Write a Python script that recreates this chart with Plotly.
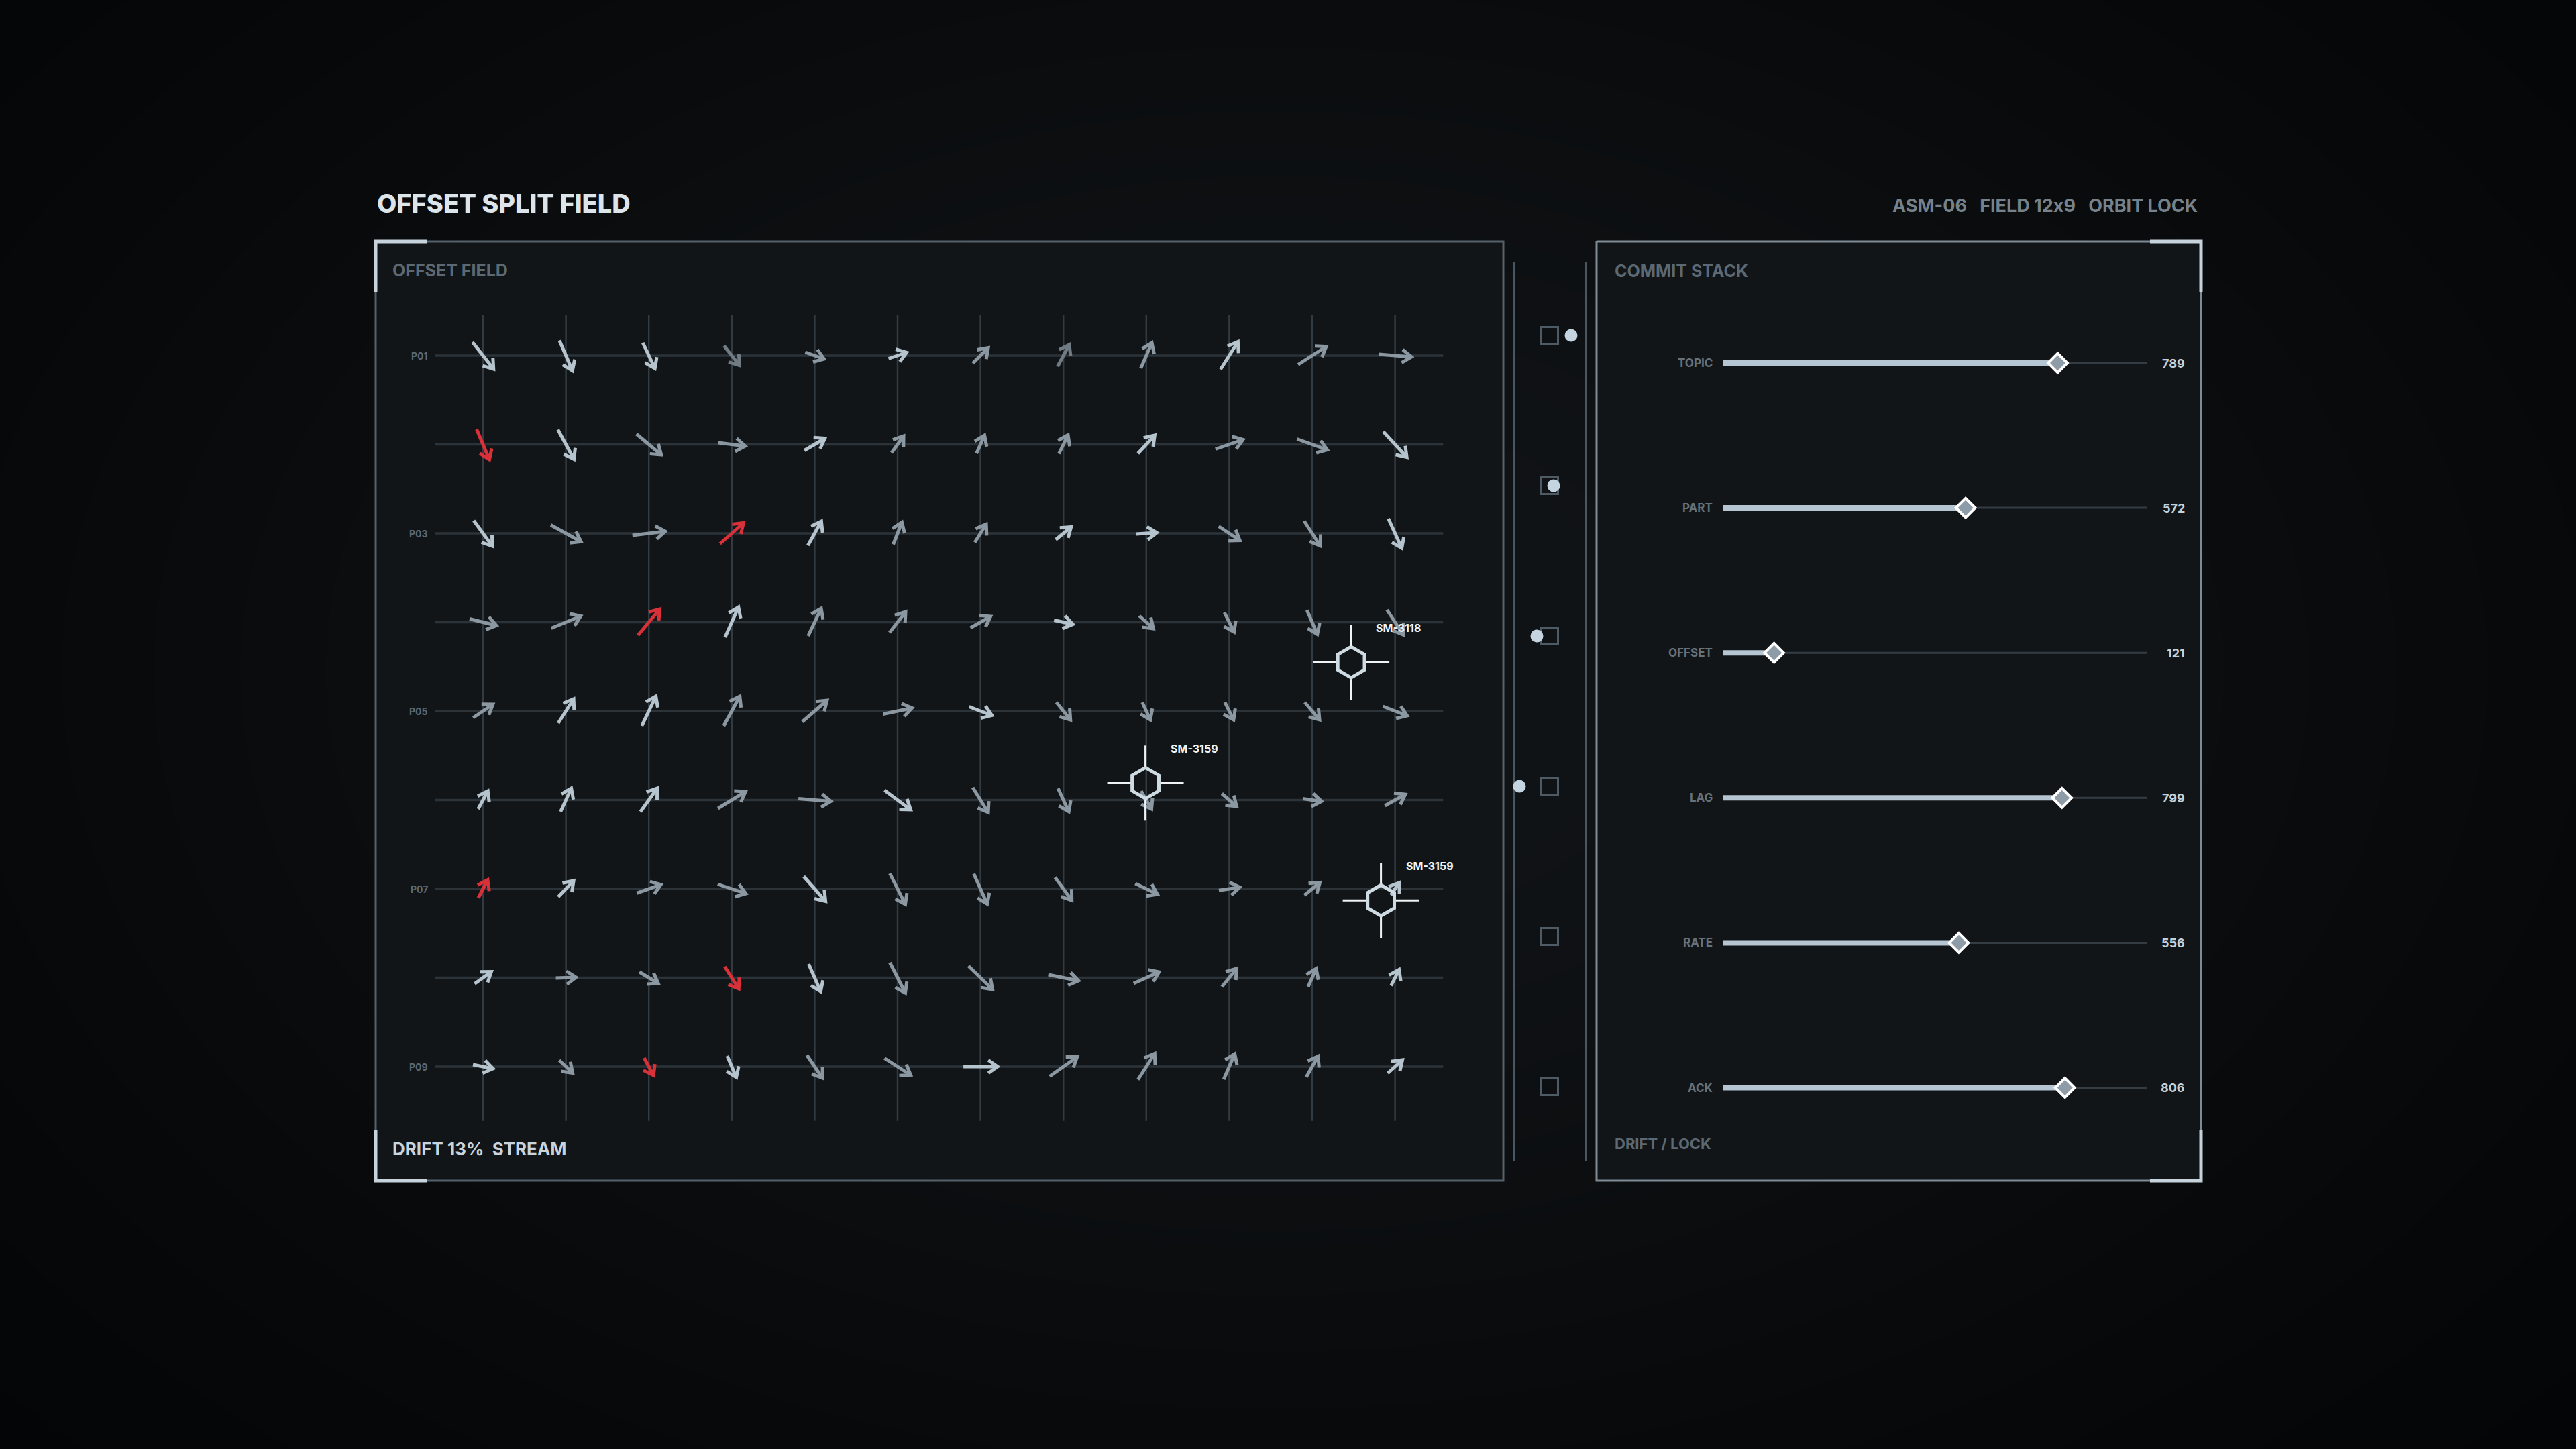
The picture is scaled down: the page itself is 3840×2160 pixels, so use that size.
import numpy as np
import plotly.graph_objects as go

W, H = 3840, 2160

# ---- data ----
col_ticks = {0: "00", 3: "24", 6: "48", 9: "72"}
row_names = ["P01", "", "P03", "", "P05", "", "P07", "", "P09"]

# drift vectors per node, px right / px up
drift_u = [
    [31.5, 19.4, 18, 23, 28, 27, 23, 17.5, 16.5, 26, 42, 49],
    [19, 24, 37, 40, 30.5, 18, 12, 13.6, 25, 41, 45, 35],
    [27.6, 45, 49, 35, 20, 13, 17, 23, 31, 31.5, 24, 20],
    [40, 44, 32.5, 20, 19.4, 24, 30, 28, 21, 14.5, 15.5, 24],
    [29.6, 23, 21, 24, 37, 43, 34, 21, 12, 13, 22, 36],
    [14.5, 16, 25, 41, 48.5, 39, 23, 16, 15.5, 22, 28, 30.5],
    [14, 23, 36, 42, 32.5, 23, 20, 25, 33, 31, 23, 12.6],
    [25, 30, 28, 21, 18, 23, 36, 45, 38, 22, 12, 12],
    [30, 20, 14, 13.6, 23, 39, 51, 41, 25, 16.5, 17.5, 22],
]
drift_v = [
    [-40, -45, -38, -29, -10, 9, 23, 32.5, 38, 41, 27, -4],
    [-45, -44, -31, -5, 18, 25, 27, 28, 27, 14, -16, -38],
    [-38, -25, 6, 31, 36, 33, 27, 19, 2, -21, -37, -44],
    [-10, 18, 39, 45, 41, 31, 17, -6, -19, -29, -36, -37],
    [20, 36, 44, 44, 32, 9, -13, -26, -26, -26, -26, -14],
    [27, 35, 35, 25, -4, -29, -37, -34.5, -27, -19, -4, 17],
    [27, 24, 12.6, -14, -37, -46, -45, -34.5, -16, 4.6, 19, 18.5],
    [18, 1, -17, -33, -41, -45, -35, -9, 17, 27, 27, 24],
    [-6, -19, -26, -32, -34, -25, 0, 29, 39, 38, 31, 20],
]
# signal confidence 1..3
confidence = [
    [3, 3, 3, 1, 2, 3, 2, 1, 2, 3, 2, 2],
    [3, 3, 2, 2, 3, 2, 2, 2, 3, 2, 2, 3],
    [3, 2, 2, 3, 3, 2, 2, 3, 3, 2, 2, 3],
    [2, 2, 3, 3, 2, 2, 2, 3, 2, 2, 2, 2],
    [2, 3, 3, 2, 2, 2, 3, 2, 2, 2, 2, 2],
    [3, 3, 3, 2, 2, 3, 2, 2, 2, 2, 2, 2],
    [3, 3, 2, 2, 3, 2, 2, 2, 2, 2, 2, 3],
    [3, 2, 2, 3, 3, 2, 2, 2, 2, 2, 2, 3],
    [3, 2, 3, 3, 2, 2, 3, 2, 2, 2, 2, 3],
]
alerts = [(1, 0), (2, 3), (3, 2), (6, 0), (7, 3), (8, 2)]

target_names = ["SM-3118", "SM-3159", "SM-3159"]
target_col = [10.47, 7.99, 10.83]
target_row = [3.45, 4.81, 6.13]

stack_names = ["TOPIC", "PART", "OFFSET", "LAG", "RATE", "ACK"]
stack_vals = [789, 572, 121, 799, 556, 806]

strip_phase = [32, 6, -19, -45, None, None]

# ---- layout geometry ----
KX, KY = 123.6, 132.5          # px per grid column / row
GX0, GY0 = 720, 530            # px of node (0, 0)
KV = 633 / 1000                # px per stack unit
SX0, SY0, SDY = 2568, 541, 216.1

BG = "#111518"
LIGHT = "#c7d3dc"
shade_col = {1: "#707b84", 2: "#8c98a1", 3: "#b6c4ce", "alert": "#d8313a"}


def dom_x(a, b):
    return [a / W, b / W]


def dom_y(a, b):
    return [1 - b / H, 1 - a / H]


fig = go.Figure()

# background vignette
bx = np.linspace(0, W, 97)
by = np.linspace(0, H, 55)
gx, gy = np.meshgrid(bx, by)
bz = np.exp(-(((gx - 1900) / 1900) ** 2 + ((gy - 1000) / 1250) ** 2))
fig.add_trace(go.Heatmap(x=bx, y=by, z=bz, showscale=False, zsmooth="best",
                         colorscale=[[0, "#040506"], [1, "#111417"]],
                         hoverinfo="skip", xaxis="x", yaxis="y"))


def rect(x0, y0, x1, y1):
    return [x0, x1, x1, x0, x0], [y0, y0, y1, y1, y0]


for (x0, y0, x1, y1, edge) in [(560, 360, 2241, 1760, "#56626b"),
                               (2380, 360, 3281, 1760, "#7f8c96")]:
    rx, ry = rect(x0, y0, x1, y1)
    fig.add_trace(go.Scatter(x=rx, y=ry, mode="lines", fill="toself", fillcolor=BG,
                             line=dict(color=edge, width=3), hoverinfo="skip",
                             xaxis="x", yaxis="y"))

# corner brackets
cx, cy = [], []
for (px, py, sx, sy) in [(560, 360, 1, 1), (560, 1760, 1, -1),
                         (3281, 360, -1, 1), (3281, 1760, -1, -1)]:
    cx += [px + sx * 76, px, px, None]
    cy += [py, py, py + sy * 76, None]
fig.add_trace(go.Scatter(x=cx, y=cy, mode="lines", line=dict(color=LIGHT, width=5),
                         hoverinfo="skip", xaxis="x", yaxis="y"))

# middle strip
fig.add_trace(go.Scatter(x=[2257, 2257, None, 2364, 2364], y=[390, 1730, None, 390, 1730],
                         mode="lines", line=dict(color="#4a5660", width=4),
                         hoverinfo="skip", xaxis="x", yaxis="y"))
slot_y = [500 + 224 * k for k in range(len(strip_phase))]
fig.add_trace(go.Scatter(x=[2310] * len(slot_y), y=slot_y, mode="markers",
                         marker=dict(symbol="square-open", size=25, color="#4f5b64",
                                     line=dict(width=3)),
                         hoverinfo="skip", xaxis="x", yaxis="y"))
dot_x = [2310 + p for p in strip_phase if p is not None]
dot_y = [slot_y[k] for k, p in enumerate(strip_phase) if p is not None]
fig.add_trace(go.Scatter(x=dot_x, y=dot_y, mode="markers",
                         marker=dict(symbol="circle", size=19, color="#c4d5e1"),
                         hoverinfo="skip", xaxis="x", yaxis="y"))

# ---- field grid (x2/y2) ----
n_rows, n_cols = len(drift_u), len(drift_u[0])
hx, hy, vx, vy = [], [], [], []
for r in range(n_rows):
    hx += [-0.58, n_cols - 1 + 0.58, None]
    hy += [r, r, None]
for c in range(n_cols):
    vx += [c, c, None]
    vy += [-0.46, n_rows - 1 + 0.61, None]
fig.add_trace(go.Scatter(x=vx, y=vy, mode="lines", line=dict(color="#333b42", width=2.5),
                         hoverinfo="skip", xaxis="x2", yaxis="y2"))
fig.add_trace(go.Scatter(x=hx, y=hy, mode="lines", line=dict(color="#2c343a", width=3.5),
                         hoverinfo="skip", xaxis="x2", yaxis="y2"))

groups = {}
arm_len, arm_ang = 17, np.radians(35)
for r in range(n_rows):
    for c in range(n_cols):
        u, v = drift_u[r][c], -drift_v[r][c]     # screen px, y down
        key = "alert" if (r, c) in alerts else confidence[r][c]
        L = np.hypot(u, v)
        bxu, byu = -u / L, -v / L
        tip = (u / 2, v / 2)
        arms = []
        for s in (1, -1):
            ca, sa = np.cos(s * arm_ang), np.sin(s * arm_ang)
            arms.append((tip[0] + arm_len * (bxu * ca - byu * sa),
                         tip[1] + arm_len * (bxu * sa + byu * ca)))
        pts = [(-u / 2, -v / 2), tip, None, arms[0], tip, arms[1], None]
        gx_, gy_ = groups.setdefault(key, ([], []))
        for p in pts:
            if p is None:
                gx_.append(None)
                gy_.append(None)
            else:
                gx_.append(c + p[0] / KX)
                gy_.append(r + p[1] / KY)
for key in [1, 2, 3, "alert"]:
    if key in groups:
        fig.add_trace(go.Scatter(x=groups[key][0], y=groups[key][1], mode="lines",
                                 line=dict(color=shade_col[key], width=5),
                                 hoverinfo="skip", xaxis="x2", yaxis="y2"))

# target reticles
hxs, hys, axs, ays = [], [], [], []
for tc, tr in zip(target_col, target_row):
    for a in [90, 30, -30, -90, -150, 150, 90]:
        hxs.append(tc + 23 * np.cos(np.radians(a)) / KX)
        hys.append(tr - 23 * np.sin(np.radians(a)) / KY)
    hxs.append(None)
    hys.append(None)
    for (x0, y0, x1, y1) in [(-57, 0, -20, 0), (20, 0, 57, 0), (0, -56, 0, -23), (0, 23, 0, 56)]:
        axs += [tc + x0 / KX, tc + x1 / KX, None]
        ays += [tr + y0 / KY, tr + y1 / KY, None]
fig.add_trace(go.Scatter(x=axs, y=ays, mode="lines", line=dict(color="#eef3f6", width=3),
                         hoverinfo="skip", xaxis="x2", yaxis="y2"))
fig.add_trace(go.Scatter(x=hxs, y=hys, mode="lines", line=dict(color="#cfdbe3", width=5),
                         hoverinfo="skip", xaxis="x2", yaxis="y2"))

# ---- commit stack (x3/y3) ----
n_stack = len(stack_names)
tx, ty, fx, fy = [], [], [], []
for k, val in enumerate(stack_vals):
    tx += [0, 1000, None]
    ty += [k, k, None]
    fx += [0, val, None]
    fy += [k, k, None]
fig.add_trace(go.Scatter(x=tx, y=ty, mode="lines", line=dict(color="#353d44", width=3),
                         hoverinfo="skip", xaxis="x3", yaxis="y3"))
fig.add_trace(go.Scatter(x=fx, y=fy, mode="lines", line=dict(color="#b5c5d1", width=8),
                         hoverinfo="skip", xaxis="x3", yaxis="y3"))
fig.add_trace(go.Scatter(x=stack_vals, y=list(range(n_stack)), mode="markers",
                         marker=dict(symbol="diamond", size=22, color="#8e9ca7",
                                     line=dict(color="#ffffff", width=4)),
                         hoverinfo="skip", xaxis="x3", yaxis="y3"))

# ---- text ----
FONT = "Inter"
ann = []


def paper_text(text, px, py, size, color, anchor="left", weight=700):
    ann.append(dict(text=text, x=px / W, y=1 - py / H, xref="paper", yref="paper",
                    xanchor=anchor, yanchor="middle", showarrow=False,
                    font=dict(family=FONT, size=size, color=color, weight=weight)))


paper_text("OFFSET SPLIT FIELD", 560, 303, 38, "#dde5eb", weight=800)
paper_text("ASM-06\u00a0\u00a0\u00a0FIELD 12\u200cx\u200c9\u00a0\u00a0\u00a0ORBIT LOCK", 3278, 307, 27,
           "#76828b", "right")
paper_text("OFFSET FIELD", 583, 403, 25, "#5d6972")
paper_text("COMMIT STACK", 2405, 404, 25, "#5d6972")
paper_text("DRIFT 13%\u00a0\u00a0STREAM", 583, 1712, 26, "#c8d3db")
paper_text("DRIFT / LOCK", 2405, 1705, 22, "#5d6972")

for c, lbl in col_ticks.items():
    ann.append(dict(text=lbl, x=c, y=-0.596, xref="x2", yref="y2", showarrow=False,
                    xanchor="center", yanchor="middle",
                    font=dict(family=FONT, size=14, color="#5d6972", weight=700)))
for r, lbl in enumerate(row_names):
    if lbl:
        ann.append(dict(text=lbl, x=-0.647, y=r, xref="x2", yref="y2", showarrow=False,
                        xanchor="right", yanchor="middle",
                        font=dict(family=FONT, size=14, color="#5d6972", weight=700)))
for name, tc, tr in zip(target_names, target_col, target_row):
    ann.append(dict(text=name, x=tc + 35 / KX, y=tr - 51 / KY, xref="x2", yref="y2",
                    showarrow=False, xanchor="left", yanchor="middle",
                    font=dict(family=FONT, size=16, color="#eef3f6", weight=700)))
for k, (name, val) in enumerate(zip(stack_names, stack_vals)):
    ann.append(dict(text=name, x=-20, y=k, xref="x3", yref="y3", showarrow=False,
                    xanchor="right", yanchor="middle",
                    font=dict(family=FONT, size=17, color="#66717a", weight=700)))
    ann.append(dict(text=str(val), x=1092, y=k, xref="x3", yref="y3", showarrow=False,
                    xanchor="right", yanchor="middle",
                    font=dict(family=FONT, size=18, color="#c5d0d8", weight=700)))

hidden = dict(visible=False, showgrid=False, zeroline=False, fixedrange=True)
fig.update_layout(
    width=W, height=H, margin=dict(l=0, r=0, t=0, b=0),
    paper_bgcolor="#07090a", plot_bgcolor="rgba(0,0,0,0)",
    showlegend=False, annotations=ann,
    xaxis=dict(hidden, domain=[0, 1], range=[0, W]),
    yaxis=dict(hidden, domain=[0, 1], range=[H, 0]),
    xaxis2=dict(hidden, domain=dom_x(640, 2160), anchor="y2",
                range=[(640 - GX0) / KX, (2160 - GX0) / KX]),
    yaxis2=dict(hidden, domain=dom_y(460, 1680), anchor="x2",
                range=[(1680 - GY0) / KY, (460 - GY0) / KY]),
    xaxis3=dict(hidden, domain=dom_x(2400, 3290), anchor="y3",
                range=[(2400 - SX0) / KV, (3290 - SX0) / KV]),
    yaxis3=dict(hidden, domain=dom_y(470, 1700), anchor="x3",
                range=[(1700 - SY0) / SDY, (470 - SY0) / SDY]),
)

fig.write_html(
    "out.html",
    config={"displayModeBar": False},
    post_script="document.body.style.margin='0';document.body.style.background='#07090a';",
)
